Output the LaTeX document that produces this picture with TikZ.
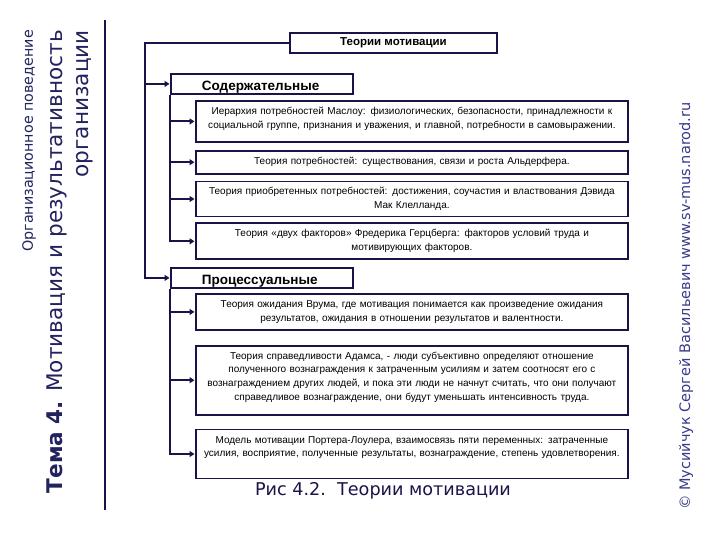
\documentclass[tikz,border=0pt]{standalone}
\usepackage{fontspec}
\setmainfont{Liberation Sans}
\newfontfamily\sidefont{DejaVu Sans}
\usetikzlibrary{arrows.meta,positioning}
\definecolor{linecol}{HTML}{1B1248}
\definecolor{sidecol}{HTML}{22225E}
\definecolor{copycol}{HTML}{3A3A8C}

\begin{document}
\begin{tikzpicture}[x=1pt,y=-1pt,>={Triangle[length=5pt,width=6pt]},
                    conn/.style={draw=linecol,line width=2.2pt,->,shorten >=0.5pt},
                    titlebox/.style={draw=linecol,line width=1.8pt,minimum width=207pt,
                                     minimum height=20pt,font=\bfseries\fontsize{11.5}{13}\selectfont},
                    group/.style={draw=linecol,line width=1.8pt,text width=120pt,inner xsep=31pt,
                                  inner ysep=0pt,text height=17pt,text depth=3pt,align=left,
                                  font=\bfseries\fontsize{13.5}{15}\selectfont},
                    theory/.style={draw=linecol,line width=1.8pt,text width=424pt,inner xsep=4pt,
                                   inner ysep=3.5pt,text height=10pt,align=center,
                                   font=\fontsize{10}{13.7}\selectfont},
                    side/.style={rotate=90,inner sep=0pt,font=\sidefont}]
    \useasboundingbox (0,0) rectangle (720,540);

    % side titles
    \node[side,anchor=east,text=sidecol,font=\sidefont\fontsize{14.3}{16}\selectfont] (course) at (29,30) {Организационное поведение};
    \node[side,anchor=north east,align=right,text=sidecol,font=\sidefont\fontsize{21.6}{26}\selectfont] (topic) at (47,30)
        {{\bfseries Тема 4.} Мотивация и результативность\\организации};
    \draw[draw=linecol,line width=1.5pt] (105,20) -- (105,510);
    \node[side,anchor=west,text=copycol,font=\sidefont\fontsize{14.5}{16}\selectfont] (author) at (686,510)
        {© Мусийчук Сергей Васильевич www.sv-mus.narod.ru};

    % boxes
    \node[titlebox] (title) at (393.5,43) {Теории мотивации};
    \node[group,anchor=north west] (content) at (170,73) {Содержательные};
    \node[theory,anchor=north west,text depth=24pt] (maslow) at (195,100)
        {Иерархия потребностей Маслоу: физиологических, безопасности, принадлежности к\\
         социальной группе, признания и уважения, и главной, потребности в самовыражении.};
    \node[theory,text depth=6pt,below=7pt of maslow] (alderfer)
        {Теория потребностей: существования, связи и роста Альдерфера.};
    \node[theory,text depth=18pt,below=6pt of alderfer] (mcclelland)
        {Теория приобретенных потребностей: достижения, соучастия и властвования Дэвида\\
         Мак Клелланда.};
    \node[theory,text depth=19pt,below=5pt of mcclelland] (herzberg)
        {Теория «двух факторов» Фредерика Герцберга: факторов условий труда и\\
         мотивирующих факторов.};
    \node[group,anchor=north west] (process) at (170,267) {Процессуальные};
    \node[theory,anchor=north west,text depth=19pt] (vroom) at (195,293)
        {Теория ожидания Врума, где мотивация понимается как произведение ожидания\\
         результатов, ожидания в отношении результатов и валентности.};
    \node[theory,text depth=52pt,below=14pt of vroom] (adams)
        {Теория справедливости Адамса, - люди субъективно определяют отношение\\
         полученного вознаграждения к затраченным усилиям и затем соотносят его с\\
         вознаграждением других людей, и пока эти люди не начнут считать, что они получают\\
         справедливое вознаграждение, они будут уменьшать интенсивность труда.};
    \node[theory,text depth=32pt,below=13pt of adams] (porter)
        {Модель мотивации Портера-Лоулера, взаимосвязь пяти переменных: затраченные\\
         усилия, восприятие, полученные результаты, вознаграждение, степень удовлетворения.};
    \node[text=linecol,font=\sidefont\fontsize{17.6}{20}\selectfont] (caption) at (383,491)
        {Рис 4.2.\ \ Теории мотивации};

    % connectors
    \coordinate (trunk) at (145,0);
    \draw[conn] (title.west) -| (trunk |- process.west) -- (process.west);
    \draw[conn] (trunk |- content.west) -- (content.west);
    \draw[conn] (content.south west) |- (herzberg.west);
    \foreach \t in {maslow,alderfer,mcclelland}
        \draw[conn] (content.south west |- \t.west) -- (\t.west);
    \draw[conn] (process.south west) |- (porter.west);
    \foreach \t in {vroom,adams}
        \draw[conn] (process.south west |- \t.west) -- (\t.west);
\end{tikzpicture}
\end{document}
